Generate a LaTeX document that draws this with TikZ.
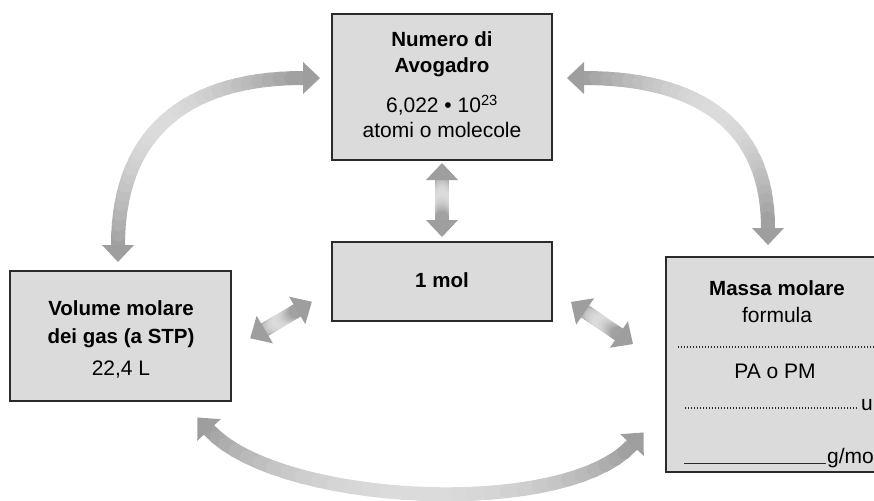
\documentclass[tikz,border=0pt]{standalone}
\usepackage{fontspec}
\setmainfont{Liberation Sans}
\usetikzlibrary{calc}
\definecolor{boxfill}{gray}{0.86}
\definecolor{boxline}{gray}{0.17}
\definecolor{arrdark}{gray}{0.62}
\definecolor{arrlight}{gray}{0.86}
\newcommand\NSEG{30}
\newcommand\NSEGm{29}
\newcommand\gradarrow[4]{%
  \path (#1) .. controls (#2) and (#3) .. (#4)
    \foreach \k in {0,...,\NSEG}{ coordinate[pos=\k/\NSEG] (ga-\k) };
  \foreach \k [evaluate=\k as \kk using int(\k+1),
               evaluate=\k as \pc using {100*sin(180*(\k+0.5)/\NSEG)}] in {0,...,\NSEGm}{
    \draw[line width=14pt, color=arrlight!\pc!arrdark, line cap=round] (ga-\k) -- (ga-\kk);
  }
  \fill[arrdark] ($(#1)!-17pt!(#2)$) -- ($(#1)!16pt!90:(#2)$) -- ($(#1)!16pt!-90:(#2)$) -- cycle;
  \fill[arrdark] ($(#4)!-17pt!(#3)$) -- ($(#4)!16pt!90:(#3)$) -- ($(#4)!16pt!-90:(#3)$) -- cycle;
}
\newcommand\gradline[2]{%
  \coordinate (gl-a) at ($(#1)!0.3333!(#2)$);
  \coordinate (gl-b) at ($(#1)!0.6667!(#2)$);
  \gradarrow{#1}{gl-a}{gl-b}{#2}%
}
\begin{document}
\begin{tikzpicture}[x=1pt,y=-1pt,
  every node/.style={font=\fontsize{21}{25}\selectfont, text=black},
  txt/.style={anchor=base, inner sep=0pt},
  bold/.style={font=\fontsize{20.5}{25}\selectfont\bfseries},
  box/.style={draw=boxline, fill=boxfill, line width=1.2pt, inner sep=0pt},
  dotline/.style={draw=boxline, line width=1.2pt, dash pattern=on 1.2pt off 1.8pt},
  solidline/.style={draw=boxline, line width=1pt}]
\useasboundingbox (0,0) rectangle (874,500);
\clip (0,0) rectangle (874,500);

% boxes
\node[box, minimum width=220pt, minimum height=146pt] (avo) at (442,87) {};
\node[box, minimum width=220pt, minimum height=79pt] (mol) at (442,281.5) {};
\node[box, minimum width=221pt, minimum height=130pt] (vol) at (120.5,336) {};
\node[box, minimum width=230pt, minimum height=215pt] (mas) at (781,364.5) {};

% top box text
\node[txt, bold] (avo1) at (442,47) {Numero di};
\node[txt, bold] (avo2) at (442,73) {Avogadro};
\node[txt] (avo3) at (442,113) {6,022 • 10\textsuperscript{23}};
\node[txt] (avo4) at (442,137) {atomi o molecole};

% middle box text
\node[txt, bold] (mol1) at (442,287) {1 mol};

% left box text
\node[txt, bold] (vol1) at (121,315) {Volume molare};
\node[txt, bold] (vol2) at (121,343) {dei gas (a STP)};
\node[txt] (vol3) at (121,375) {22,4 L};

% right box contents
\node[txt, bold] (mmt) at (777,295) {Massa molare};
\node[txt] (form) at (777,322) {formula};
\draw[dotline] (678,347) -- (880,347);
\node[txt] (papm) at (775,378) {PA o PM};
\draw[dotline] (685,408) -- (857,408);
\node[txt, anchor=base west] (uu) at (861,410) {u};
\draw[solidline] (684,463) -- (826,463);
\node[txt, anchor=base west] (gmol) at (827,463) {g/mo};

% arrow end points
\coordinate (v1) at (442,180);
\coordinate (v2) at (442,220);
\coordinate (l1) at (264.8,329.6);
\coordinate (l2) at (297.2,310.4);
\coordinate (r1) at (585.1,311.5);
\coordinate (r2) at (618.9,334.5);
\coordinate (tl1) at (118,245);
\coordinate (tl1c) at (118,136);
\coordinate (tl2c) at (183,78);
\coordinate (tl2) at (303,78);
\coordinate (tr1) at (584,78);
\coordinate (tr1c) at (704,78);
\coordinate (tr2c) at (768,130);
\coordinate (tr2) at (768,228);
\coordinate (b1) at (209,430);
\coordinate (b1c) at (278,505);
\coordinate (b2c) at (563,520);
\coordinate (b2) at (632,445);

% arrows
\gradline{v1}{v2}
\gradline{l1}{l2}
\gradline{r1}{r2}
\gradarrow{tl1}{tl1c}{tl2c}{tl2}
\gradarrow{tr1}{tr1c}{tr2c}{tr2}
\gradarrow{b1}{b1c}{b2c}{b2}
\end{tikzpicture}
\end{document}
